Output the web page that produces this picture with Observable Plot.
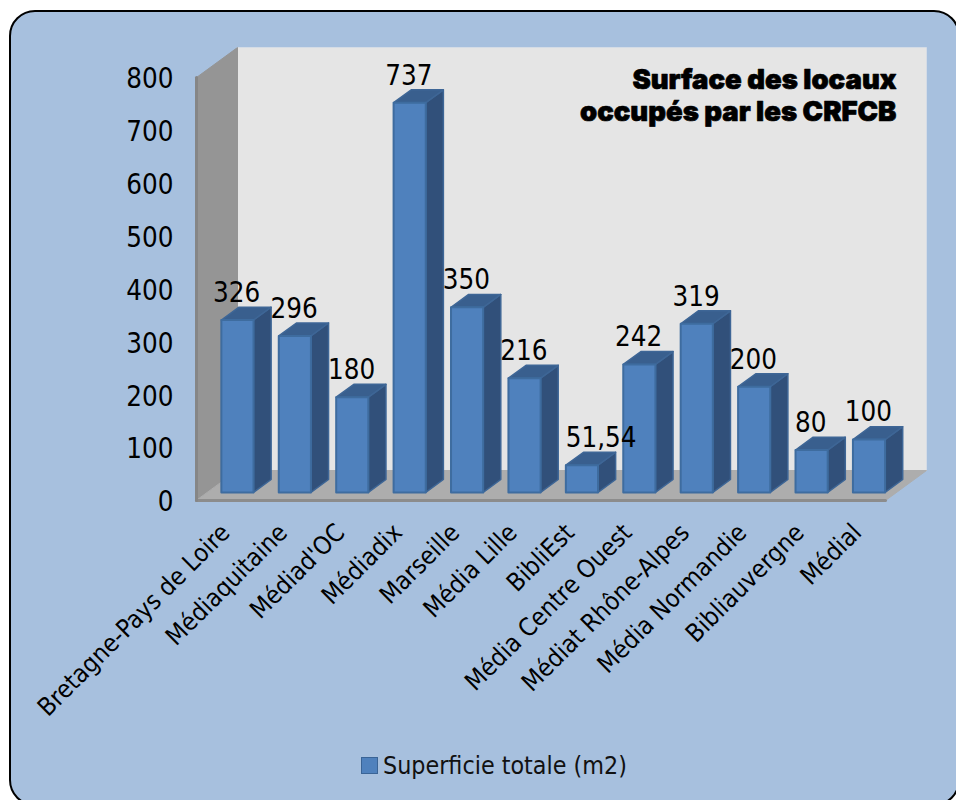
<!DOCTYPE html>
<html><head><meta charset="utf-8">
<script src="https://cdn.jsdelivr.net/npm/d3@7"></script>
<script src="https://cdn.jsdelivr.net/npm/@observablehq/plot@0.6"></script>
<style>
html,body{margin:0;padding:0;background:#fff;}
body{width:956px;height:800px;overflow:hidden;position:relative;font-family:"DejaVu Sans Condensed","DejaVu Sans",sans-serif;}
#panel{position:absolute;left:9px;top:10px;width:951px;height:796px;box-sizing:border-box;background:#A7C0DE;border:2px solid #000;border-radius:26px;}
#chart{position:absolute;left:0;top:0;}
#legend{position:absolute;left:361px;top:751px;display:flex;align-items:center;gap:5px;font-size:24.8px;color:#111;}
#legend i{display:block;width:15px;height:15px;background:#4F81BD;border:1px solid #3A6496;}
</style></head>
<body>
<div id="panel"></div>
<div id="chart"></div>
<div id="legend"><i></i><span>Superficie totale (m2)</span></div>
<script>
const categories = ["Bretagne-Pays de Loire","Médiaquitaine","Médiad'OC","Médiadix","Marseille","Média Lille","BibliEst","Média Centre Ouest","Médiat Rhône-Alpes","Média Normandie","Bibliauvergne","Médial"];
const values = [326,296,180,737,350,216,51.54,242,319,200,80,100];
const yTicks = [0,100,200,300,400,500,600,700,800];
const titleLines = ["Surface des locaux","occupés par les CRFCB"];
const rows = categories.map((name,i)=>({name,i,value:values[i]}));
const frFormat = v => String(v).replace(".",",");

// oblique projection: depth z runs from 0 (front of floor) to 1 (back wall)
const skewX = 0.714, skewY = 56.7;
const pt = (id,x,v,z) => ({id,x:x+z*skewX,y:v+z*skewY});
const poly = (id,corners) => corners.map(([x,v,z])=>pt(id,x,v,z));
const n = categories.length, yMax = yTicks[yTicks.length-1];
const backWall = poly("back",[[0,0,1],[n,0,1],[n,yMax,1],[0,yMax,1]]);
const sideWall = poly("side",[[0,0,0],[0,0,1],[0,yMax,1],[0,yMax,0]]);
const floor = poly("floor",[[0,0,0],[n,0,0],[n,0,1],[0,0,1]]);
const floorEdge = [pt("e",0,0,0),pt("e",n,0,0)];
const sideEdge = [pt("s",0,0,0),pt("s",0,yMax,0)];

const barPad = 0.24, barW = 0.56, z0 = 0.27, z1 = 0.70;
const frontF = rows.flatMap(d=>poly(d.i,[[d.i+barPad,0,z0],[d.i+barPad+barW,0,z0],[d.i+barPad+barW,d.value,z0],[d.i+barPad,d.value,z0]]));
const sideF = rows.flatMap(d=>poly(d.i,[[d.i+barPad+barW,0,z0],[d.i+barPad+barW,0,z1],[d.i+barPad+barW,d.value,z1],[d.i+barPad+barW,d.value,z0]]));
const topF = rows.flatMap(d=>poly(d.i,[[d.i+barPad,d.value,z0],[d.i+barPad+barW,d.value,z0],[d.i+barPad+barW,d.value,z1],[d.i+barPad,d.value,z1]]));

const face = (data,fill,stroke,strokeWidth=1) => Plot.line(data,{x:"x",y:"y",z:"id",fill,stroke,strokeWidth,curve:"linear-closed"});
const labelPoint = d => d.i+0.5+0.2;

const chart = Plot.plot({
  width:956, height:745,
  marginLeft:196, marginRight:71, marginTop:77, marginBottom:245,
  style:{background:"transparent",fontFamily:'"DejaVu Sans Condensed","DejaVu Sans",sans-serif',color:"#000",overflow:"visible"},
  x:{type:"linear",domain:[0,n],axis:null},
  y:{domain:[0,yMax],ticks:yTicks,label:null,axis:null},
  marks:[
    face(backWall,"#E5E5E5","#D5DCE6"),
    face(sideWall,"#959595","#959595"),
    face(floor,"#ADADAD","#ADADAD"),
    Plot.line(floorEdge,{x:"x",y:"y",stroke:"#8C8C8C",strokeWidth:3}),
    Plot.line(sideEdge,{x:"x",y:"y",stroke:"#868686",strokeWidth:3}),
    face(sideF,"#31507A","#3E6696",1.5),
    face(topF,"#395F8E","#3E6696",1.5),
    face(frontF,"#4F81BD","#3E6C9F",2),
    Plot.axisY({ticks:yTicks,tickSize:0,tickPadding:23,fontSize:27.5,label:null,tickFormat:d=>d,color:"#000",dy:2}),
    Plot.text(rows.filter(d=>d.value>60),{x:labelPoint,y:"value",text:d=>frFormat(d.value),fontSize:27.5,fill:"#000",dy:-35}),
    Plot.text(rows.filter(d=>d.value<=60),{x:labelPoint,y:"value",text:d=>frFormat(d.value),fontSize:27.5,fill:"#000",dx:20,dy:-35}),
    Plot.text(rows,{x:labelPoint,y:()=>0,text:"name",rotate:-45,textAnchor:"end",fontSize:25,fill:"#000",dy:28,dx:-11}),
    Plot.text([titleLines.join("\n")],{x:()=>n,y:()=>yMax,text:d=>d,lineAnchor:"top",textAnchor:"end",lineHeight:1.16,fontSize:27.5,fontWeight:900,fontFamily:"Inter",fill:"#000",stroke:"#000",strokeWidth:0.7,dx:11,dy:-11})
  ]
});
document.getElementById("chart").append(chart);
</script>
</body></html>
